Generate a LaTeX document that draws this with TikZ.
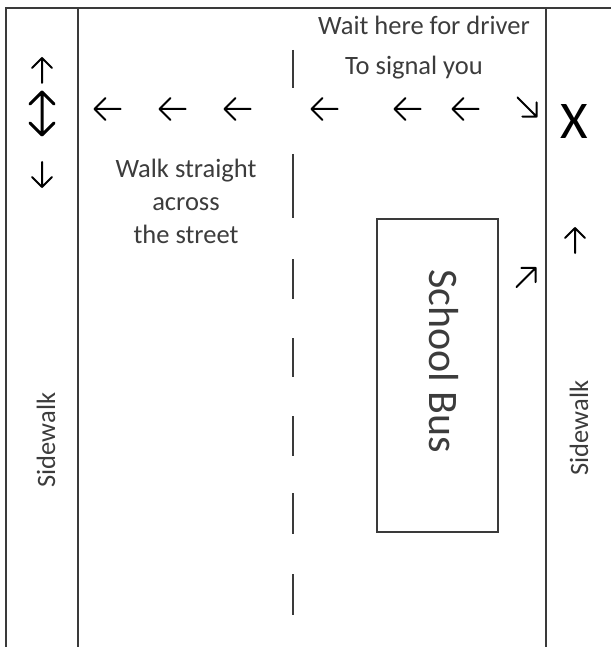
\documentclass[tikz,border=0pt]{standalone}
\usepackage{fontspec}
\setmainfont{Carlito}
\definecolor{linegray}{HTML}{3A3A3A}
\definecolor{txtgray}{HTML}{3C3C3C}
\begin{document}
\begin{tikzpicture}[x=1bp,y=-1bp,
  road/.style={draw=linegray,line width=2bp},
  lbl/.style={text=txtgray,font=\fontsize{26.5bp}{30bp}\selectfont,inner sep=0pt,anchor=base},
  arrowline/.style={draw=black,line width=2bp,line cap=round,line join=round},
  arrlen/.store in=\arrlen, arrlen=26,
  arrarm/.store in=\arrarm, arrarm=11,
  symarrow/.pic={
    \draw[arrowline] (-\arrlen/2,0) -- (\arrlen/2,0)
      (-\arrlen/2+\arrarm,-\arrarm) -- (-\arrlen/2,0) -- (-\arrlen/2+\arrarm,\arrarm);
  },
  symdarrow/.pic={
    \draw[arrowline] (-\arrlen/2,0) -- (\arrlen/2,0)
      (-\arrlen/2+\arrarm,-\arrarm) -- (-\arrlen/2,0) -- (-\arrlen/2+\arrarm,\arrarm)
      (\arrlen/2-\arrarm,-\arrarm) -- (\arrlen/2,0) -- (\arrlen/2-\arrarm,\arrarm);
  },
]
\useasboundingbox (0,0) rectangle (611,647);
% street edges
\coordinate (tl) at (6,8);
\coordinate (tr) at (611,8);
\coordinate (bl) at (6,647);
\coordinate (lt) at (78,8);
\coordinate (lb) at (78,647);
\coordinate (rt) at (546,8);
\coordinate (rb) at (546,647);
\draw[road] (bl) -- (tl) -- (tr);
\draw[road] (lt) -- (lb);
\draw[road] (rt) -- (rb);
% center dashes
\foreach \a/\b in {50/88,154/218,259/299,338/377,416/456,493/534,574/615}
  \draw[road] (293,\a) -- (293,\b);
% bus
\node[draw=linegray,line width=2bp,minimum width=121bp,minimum height=313bp,inner sep=0pt] (bus) at (437.5,375.5) {};
\node[text=txtgray,font=\fontsize{42bp}{46bp}\selectfont,rotate=-90,inner sep=0pt] (bustxt) at (444,361) {School Bus};
% sidewalk labels
\node[lbl,anchor=center,rotate=90] (swl) at (46,440) {Sidewalk};
\node[lbl,anchor=center,rotate=90] (swr) at (579,428) {Sidewalk};
% texts
\node[lbl] (wait) at (424,35) {Wait here for driver};
\node[lbl] (sig) at (414,75) {To signal you};
\node[lbl] (w1) at (186,178) {Walk straight};
\node[lbl] (w2) at (186,210) {across};
\node[lbl] (w3) at (186,243) {the street};
\node[text=black,font=\fontsize{53bp}{56bp}\selectfont,inner sep=0pt] (x) at (574.5,121) {X};
% arrows
\foreach \xx in {107.5,172.5,237.5,324.5,407.5,465.5}
  \pic at (\xx,109) {symarrow};
\pic[rotate=135,arrlen=27,arrarm=10] at (527,107) {symarrow};
\pic[rotate=-90,arrlen=25,arrarm=10] at (42,70.5) {symarrow};
\pic[rotate=-90,arrlen=43,arrarm=12,arrowline/.append style={line width=3bp}] at (42,113.5) {symdarrow};
\pic[rotate=90,arrlen=25,arrarm=10] at (42,174.5) {symarrow};
\pic[rotate=-90,arrlen=25,arrarm=10] at (575,240.5) {symarrow};
\pic[rotate=-135,arrlen=27,arrarm=10] at (526,277.5) {symarrow};
\end{tikzpicture}
\end{document}
